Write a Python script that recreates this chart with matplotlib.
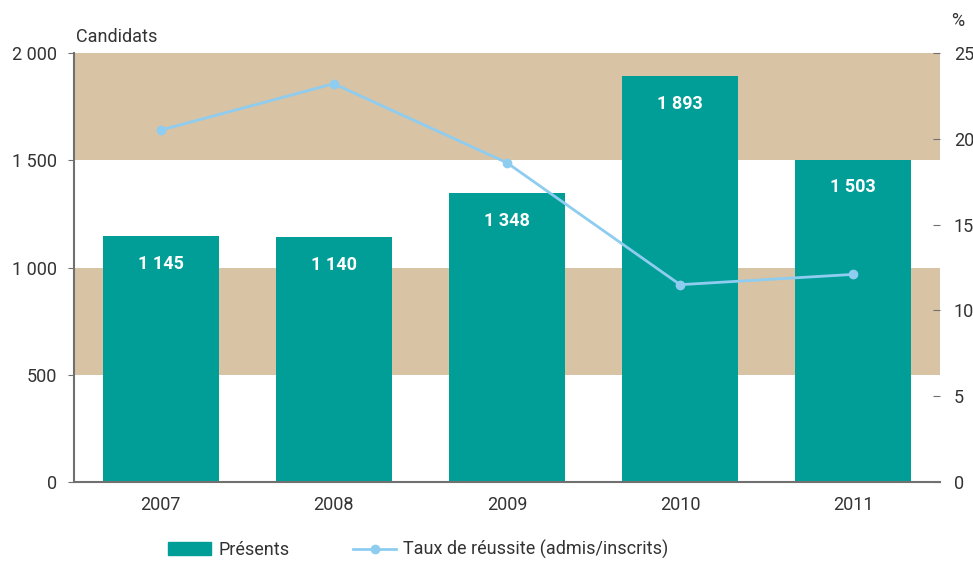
import matplotlib
matplotlib.use("Agg")
from matplotlib import pyplot as plt
from matplotlib.lines import Line2D
from matplotlib.patches import Patch
import numpy as np

plt.rcParams['font.family'] = ['Roboto', 'DejaVu Sans']

years = ['2007', '2008', '2009', '2010', '2011']
presents = [1145, 1140, 1348, 1893, 1503]
taux = [20.5, 23.2, 18.6, 11.5, 12.1]
bar_labels = ['1 145', '1 140', '1 348', '1 893', '1 503']
left_ticks = [0, 500, 1000, 1500, 2000]
left_ticklabels = ['0', '500', '1 000', '1 500', '2 000']
right_ticks = [0, 5, 10, 15, 20, 25]

teal = '#009E96'
tan = '#D8C3A5'
blue = '#8ECDF0'
grey = '#707070'
txt = '#333333'

fig = plt.figure(figsize=(9.73, 5.62), dpi=100)
ax = fig.add_axes([0.076, 0.142, 0.890, 0.764])
ax2 = ax.twinx()

x = np.arange(len(years))
ax.axhspan(500, 1000, color=tan, zorder=0, lw=0)
ax.axhspan(1500, 2000, color=tan, zorder=0, lw=0)
ax.bar(x, presents, 0.67, color=teal, zorder=2)
for xi, v, lab in zip(x, presents, bar_labels):
    ax.annotate(lab, (xi, v), xytext=(0, -20), textcoords='offset points',
                ha='center', va='center', color='white', fontweight='bold', fontsize=13)

ax2.plot(x, taux, color=blue, lw=2, marker='o', markersize=6, zorder=3)

ax.set_xlim(-0.5, 4.5)
ax.set_ylim(0, 2000)
ax2.set_ylim(0, 25)
ax.set_yticks(left_ticks)
ax.set_yticklabels(left_ticklabels)
ax2.set_yticks(right_ticks)
ax.set_xticks(x)
ax.set_xticklabels(years)

for a in (ax, ax2):
    for s in ['top', 'right', 'left', 'bottom']:
        a.spines[s].set_visible(False)
ax.spines['left'].set_visible(True)
ax.spines['bottom'].set_visible(True)
ax.spines['left'].set_color(grey)
ax.spines['bottom'].set_color(grey)
ax.spines['left'].set_linewidth(1.5)
ax.spines['bottom'].set_linewidth(1.5)

ax.tick_params(axis='y', length=4, color=grey, labelsize=13, labelcolor=txt, pad=8)
ax.tick_params(axis='x', length=0, labelsize=13, labelcolor=txt, pad=10)
ax2.tick_params(axis='y', length=5, direction='in', color=grey, labelsize=13, labelcolor=txt, pad=10)

fig.text(0.978, 0.963, '%', fontsize=13, color=txt, ha='left', va='center')
fig.text(0.078, 0.935, 'Candidats', fontsize=13, color=txt, ha='left', va='center')

handles = [Patch(color=teal, label='Présents'),
           Line2D([], [], color=blue, lw=2, marker='o', markersize=6,
                  label='Taux de réussite (admis/inscrits)')]
fig.legend(handles=handles, loc='center', bbox_to_anchor=(0.43, 0.022), ncol=2,
           frameon=False, fontsize=13, handlelength=2.4, columnspacing=3.5,
           handletextpad=0.4, labelcolor=txt)

fig.savefig('out.png', dpi=100)
